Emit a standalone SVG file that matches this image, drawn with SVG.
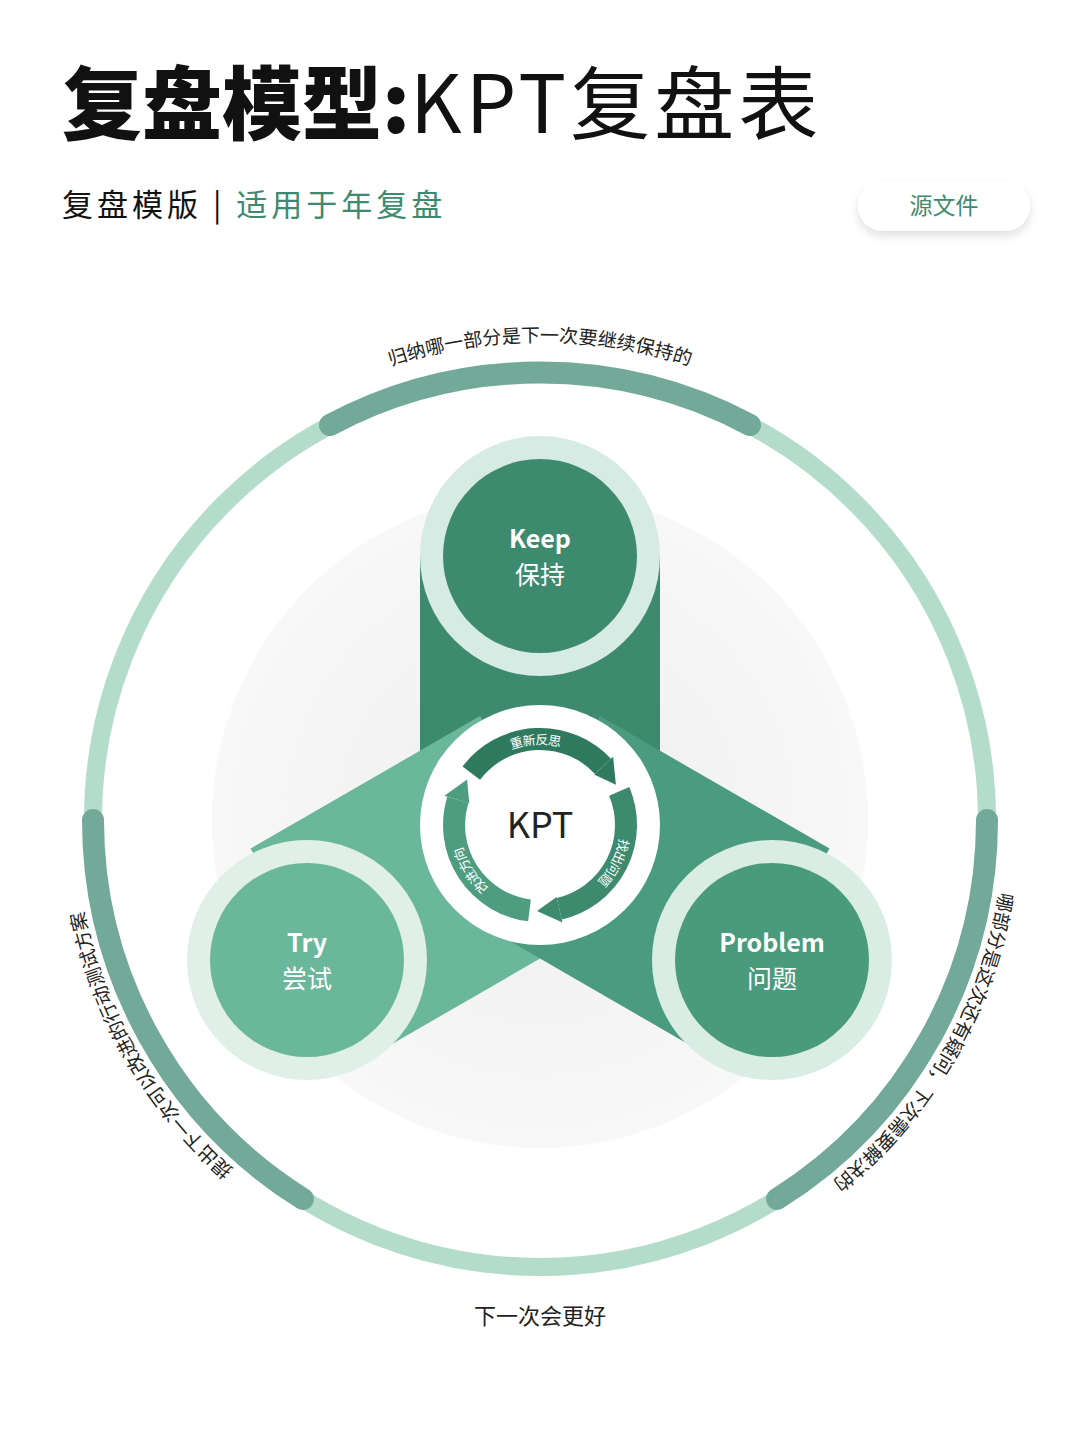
<svg xmlns="http://www.w3.org/2000/svg" width="1080" height="1440" viewBox="0 0 1080 1440">
<defs>
<style>
.t{font-family:"Noto Sans CJK SC","Noto Sans",sans-serif}
.arc{fill:none;stroke:#73a998;stroke-width:22;stroke-linecap:round}
.lab{font-size:19px;fill:#222}
.nt{fill:#fff;text-anchor:middle;font-size:25px}
.ia{fill:none;stroke-width:22}
.it{font-size:13px;fill:#fff}
</style>
<radialGradient id="bg" cx="0.5" cy="0.5" r="0.5"><stop offset="0" stop-color="#eeeeee"/><stop offset="1" stop-color="#f8f8f8"/></radialGradient>
<filter id="sh" x="-20%" y="-40%" width="140%" height="200%"><feDropShadow dx="0" dy="5" stdDeviation="5" flood-color="#000" flood-opacity="0.12"/></filter>
<path id="pTop" d="M62,820 A478,478 0 0 1 1018,820"/>
<path id="pRight" d="M775,413 A470,470 0 0 1 305,1227"/>
<path id="pLeft" d="M775,1227 A470,470 0 0 1 305,413"/>
<path id="aTop" d="M471.3,773.2 A86,86 0 0 1 602.9,766.3"/>
<path id="aRight" d="M619.2,791.4 A86,86 0 0 1 559.3,908.8"/>
<path id="aLeft" d="M529.5,910.4 A86,86 0 0 1 457.8,799.9"/>
</defs>
<rect width="1080" height="1440" fill="#fff"/>
<g id="title" class="t">
<text x="62" y="133" font-size="80" fill="#111"><tspan font-weight="900">复盘模型:</tspan><tspan font-weight="400" letter-spacing="4">KPT复盘表</tspan></text>
<text x="62" y="216" font-size="31" letter-spacing="4" fill="#111">复盘模版 | <tspan fill="#3e8a70">适用于年复盘</tspan></text>
</g>
<g id="button">
<rect x="858" y="181" width="172" height="50" rx="25" fill="#fff" filter="url(#sh)"/>
<text x="944" y="214" class="t" font-size="23" fill="#3e8a70" text-anchor="middle">源文件</text>
</g>
<circle cx="540" cy="820" r="328" fill="url(#bg)"/>
<g id="ring">
<circle cx="540" cy="820" r="447" fill="none" stroke="#b3dccb" stroke-width="18"/>
<path class="arc" d="M330,425 A447,447 0 0 1 750,425"/>
<path class="arc" d="M987,820 A447,447 0 0 1 777,1199"/>
<path class="arc" d="M303,1199 A447,447 0 0 1 93,820"/>
</g>
<g id="ringlabels" class="t lab">
<text><textPath href="#pTop" startOffset="50%" text-anchor="middle">归纳哪一部分是下一次要继续保持的</textPath></text>
<text><textPath href="#pRight" startOffset="50%" text-anchor="middle">哪部分是这次还有疑问，下次需要解决的</textPath></text>
<text><textPath href="#pLeft" startOffset="50%" text-anchor="middle">提出下一次可以改进的行动测试方案</textPath></text>
<text x="540" y="1324" font-size="22" text-anchor="middle">下一次会更好</text>
</g>
<g id="arms">
<rect x="420" y="555" width="240" height="265" fill="#3e8a6f"/>
<rect x="420" y="555" width="240" height="265" fill="#6bb79b" transform="rotate(240 540 820)"/>
<rect x="420" y="555" width="240" height="265" fill="#4a9b7f" transform="rotate(120 540 820)"/>
</g>
<g id="keep">
<circle cx="540" cy="556" r="120" fill="#d5ebe3"/>
<circle cx="540" cy="556" r="97" fill="#3e8a6f"/>
<text class="t nt" x="540" y="548" font-weight="700">Keep</text>
<text class="t nt" x="540" y="584">保持</text>
</g>
<g id="try">
<circle cx="307" cy="960" r="120" fill="#e0f0e9"/>
<circle cx="307" cy="960" r="97" fill="#6bb79b"/>
<text class="t nt" x="307" y="952" font-weight="700">Try</text>
<text class="t nt" x="307" y="988">尝试</text>
</g>
<g id="problem">
<circle cx="772" cy="960" r="120" fill="#d9ede5"/>
<circle cx="772" cy="960" r="97" fill="#4a9a7e"/>
<text class="t nt" x="772" y="952" font-weight="700">Problem</text>
<text class="t nt" x="772" y="988">问题</text>
</g>
<g id="kpt">
<circle cx="540" cy="825" r="120" fill="#fff"/>
<use href="#aTop" class="ia" stroke="#2f7a5f"/>
<polygon points="594.1,774.5 613.1,756.8 615.9,784.7" fill="#2f7a5f"/>
<use href="#aRight" class="ia" stroke="#3d8a6f"/>
<polygon points="556.6,897.1 562.5,922.4 537,910.9" fill="#3d8a6f"/>
<use href="#aLeft" class="ia" stroke="#4e9d80"/>
<polygon points="469.3,803.4 444.4,795.8 467.1,779.4" fill="#4e9d80"/>
<text class="t it"><textPath href="#aTop" startOffset="50%" text-anchor="middle" dominant-baseline="central">重新反思</textPath></text>
<text class="t it"><textPath href="#aRight" startOffset="50%" text-anchor="middle" dominant-baseline="central">找出问题</textPath></text>
<text class="t it"><textPath href="#aLeft" startOffset="50%" text-anchor="middle" dominant-baseline="central">改进方向</textPath></text>
<text x="540" y="838" class="t" font-size="36" fill="#222" text-anchor="middle">KPT</text>
</g>
</svg>
